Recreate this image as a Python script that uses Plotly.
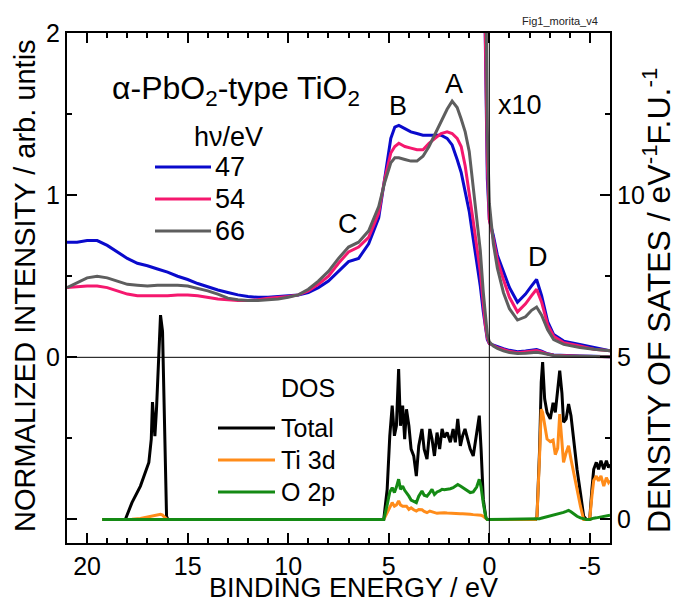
import plotly.graph_objects as go

# ---------------- photoemission spectra (raw, normalized) ----------------
spec_E = [21, 20.5, 20, 19.5, 19, 18.5, 18, 17.5, 17, 16.5, 16, 15.5, 15, 14.5, 14, 13.5,
          13, 12.5, 12, 11.5, 11, 10.5, 10, 9.5, 9, 8.5, 8, 7.5, 7, 6.5, 6, 5.5, 5.2, 4.9,
          4.7, 4.5, 4.2, 3.9, 3.6, 3.3, 3.0, 2.7, 2.4, 2.1, 1.85, 1.6, 1.4, 1.2, 1.0, 0.8,
          0.6, 0.45, 0.3, 0.2, 0.1, 0.0, -0.2, -0.4, -0.7, -1.0, -1.4, -1.8, -2.1, -2.35,
          -2.6, -2.9, -3.2, -3.7, -4.5, -5.2, -6]
spec_47 = [0.71, 0.71, 0.72, 0.72, 0.69, 0.65, 0.61, 0.58, 0.565, 0.545, 0.525, 0.50, 0.48,
           0.455, 0.435, 0.415, 0.40, 0.385, 0.375, 0.37, 0.37, 0.375, 0.38, 0.385, 0.40,
           0.43, 0.47, 0.53, 0.59, 0.61, 0.70, 0.86, 1.10, 1.35, 1.42, 1.43, 1.41, 1.39,
           1.38, 1.37, 1.37, 1.37, 1.37, 1.35, 1.31, 1.22, 1.14, 1.02, 0.90, 0.73, 0.57,
           0.44, 0.28, 0.18, 0.11, 0.085, 0.075, 0.063, 0.053, 0.043, 0.034, 0.039, 0.044,
           0.048, 0.038, 0.022, 0.014, 0.010, 0.008, 0.006, 0.004]
spec_54 = [0.43, 0.435, 0.44, 0.44, 0.43, 0.41, 0.39, 0.38, 0.38, 0.38, 0.38, 0.385, 0.385,
           0.38, 0.37, 0.36, 0.355, 0.35, 0.35, 0.355, 0.365, 0.37, 0.375, 0.385, 0.41,
           0.45, 0.50, 0.58, 0.65, 0.68, 0.74, 0.89, 1.10, 1.26, 1.30, 1.32, 1.30, 1.29,
           1.28, 1.28, 1.32, 1.35, 1.38, 1.39, 1.38, 1.35, 1.30, 1.18, 1.02, 0.84, 0.66,
           0.53, 0.33, 0.20, 0.12, 0.085, 0.073, 0.060, 0.048, 0.037, 0.028, 0.033, 0.038,
           0.042, 0.034, 0.020, 0.013, 0.009, 0.007, 0.005, 0.004]
spec_66 = [0.43, 0.46, 0.49, 0.50, 0.49, 0.47, 0.45, 0.445, 0.44, 0.445, 0.445, 0.445, 0.44,
           0.425, 0.41, 0.39, 0.365, 0.355, 0.35, 0.35, 0.355, 0.36, 0.37, 0.385, 0.42,
           0.47, 0.53, 0.61, 0.68, 0.71, 0.78, 0.93, 1.08, 1.20, 1.23, 1.23, 1.22, 1.21,
           1.21, 1.24, 1.30, 1.38, 1.46, 1.53, 1.58, 1.54, 1.47, 1.39, 1.27, 1.06, 0.82,
           0.66, 0.40, 0.25, 0.14, 0.095, 0.070, 0.055, 0.040, 0.030, 0.023, 0.025, 0.029,
           0.031, 0.026, 0.017, 0.011, 0.008, 0.006, 0.005, 0.004]
spec_labels = ["47", "54", "66"]
spec_colors = ["#0A0ACC", "#F5186E", "#5E5E5E"]
x10_factor = 10
x10_start = 0.3   # magnified part shown below this binding energy

# ---------------- calculated density of states ----------------
dos_E = [19.25, 18.1, 17.77, 17.35, 16.93, 16.81, 16.75, 16.63, 16.55, 16.48, 16.35, 16.25,
         16.2, 16.05, 15.98,
         5.25, 5.08, 4.95, 4.83, 4.72, 4.62, 4.51, 4.42, 4.31, 4.21, 4.12, 4.0, 3.89, 3.76,
         3.63, 3.51, 3.35, 3.24, 3.1, 2.96, 2.85, 2.73, 2.6, 2.47, 2.35, 2.24, 2.1, 1.94,
         1.8, 1.69, 1.57, 1.44, 1.33, 1.21, 1.06, 0.95, 0.8, 0.63, 0.5, 0.41, 0.3, 0.17, 0.1,
         -2.3, -2.37, -2.5, -2.58, -2.65, -2.75, -2.87, -3.03, -3.17, -3.28, -3.4, -3.5,
         -3.61, -3.69, -3.82, -3.94, -4.06, -4.19, -4.36, -4.53, -4.69, -4.82, -4.99, -5.1,
         -5.19, -5.32, -5.43, -5.55, -5.69, -5.82, -5.93, -6.0]
dos_total = [0, 0, 0.52, 1.03, 1.76, 2.48, 3.62, 2.57, 3.4, 4.33, 6.3, 5.8, 4.2, 0.1, 0,
             0, 0.93, 2.58, 3.51, 2.58, 2.89, 4.64, 2.89, 3.51, 2.48, 3.4, 2.89, 2.17, 1.96,
             1.34, 2.27, 2.79, 2.17, 1.86, 2.79, 2.48, 1.96, 2.68, 2.17, 2.79, 2.53, 2.68,
             2.38, 2.79, 2.38, 3.1, 2.27, 2.58, 2.79, 2.38, 2.17, 1.96, 2.68, 3.2, 2.17, 0.62,
             0.05, 0,
             0, 0.1, 2.17, 4.23, 4.85, 3.72, 3.3, 3.1, 3.6, 3.3, 4.0, 4.59, 3.9, 3.0, 3.1,
             3.56, 3.2, 2.48, 1.55, 0.82, 0.1, 0, 0, 0.93, 1.55, 1.76, 1.55, 1.81, 1.55, 1.81,
             1.6, 1.7]
dos_ti3d = [0, 0, 0.01, 0.03, 0.08, 0.10, 0.12, 0.12, 0.13, 0.14, 0.16, 0.14, 0.10, 0.02, 0,
            0, 0.2, 0.33, 0.52, 0.41, 0.45, 0.57, 0.45, 0.41, 0.40, 0.41, 0.31, 0.36, 0.30,
            0.26, 0.31, 0.30, 0.25, 0.21, 0.26, 0.24, 0.22, 0.19, 0.20, 0.21, 0.21, 0.20,
            0.19, 0.19, 0.19, 0.18, 0.18, 0.18, 0.18, 0.17, 0.16, 0.15, 0.14, 0.14, 0.13,
            0.10, 0.02, 0,
            0, 0.1, 2.0, 3.4, 3.3, 2.9, 2.48, 2.4, 2.45, 2.0, 2.2, 3.25, 2.48, 1.76, 2.06,
            2.27, 1.86, 1.45, 0.93, 0.41, 0, 0, 0, 0.72, 1.2, 1.34, 1.19, 1.34, 1.03, 1.29,
            1.14, 1.2]
dos_o2p = [0, 0, 0, 0, 0, 0, 0, 0, 0, 0, 0, 0, 0, 0, 0,
           0, 0.45, 0.85, 0.98, 0.83, 1.0, 1.24, 0.93, 1.03, 0.9, 0.83, 0.72, 0.6, 0.55,
           0.52, 0.72, 0.88, 0.75, 0.72, 0.83, 0.93, 0.77, 0.85, 0.88, 0.93, 0.92, 0.93,
           0.95, 0.98, 1.03, 1.08, 1.03, 0.98, 0.93, 0.88, 0.83, 0.85, 1.0, 1.24, 1.0, 0.5,
           0.05, 0,
           0, 0, 0.02, 0.04, 0.05, 0.07, 0.1, 0.12, 0.14, 0.16, 0.17, 0.18, 0.2, 0.22, 0.25,
           0.28, 0.24, 0.17, 0.1, 0.05, 0.01, 0, 0, 0.03, 0.04, 0.05, 0.06, 0.07, 0.08, 0.1,
           0.12, 0.13]
dos_labels = ["Total", "Ti 3d", "O 2p"]
dos_colors = ["#000000", "#FF8C1A", "#148A14"]

assert len(dos_E) == len(dos_total) == len(dos_ti3d) == len(dos_o2p)
assert len(spec_E) == len(spec_47) == len(spec_54) == len(spec_66)

# axis settings
x_range = [21, -6]
x_ticks = [20, 15, 10, 5, 0, -5]
y_range = [-1.145, 2.0]
y_ticks = [-1, 0, 1, 2]
y_ticktext = ["", "0", "1", "2"]
y2_range = [-0.725, 15.0]
y2_ticks = [0, 5, 10]

FONT = "Liberation Sans, Arial, sans-serif"
LW = 3

fig = go.Figure()

# DOS traces on the right axis
for vals, col in zip([dos_total, dos_ti3d, dos_o2p], dos_colors):
    fig.add_trace(go.Scatter(x=dos_E, y=vals, mode="lines", yaxis="y2",
                             line=dict(color=col, width=LW), showlegend=False,
                             hoverinfo="skip"))

# Spectra (raw and x10) on the left axis
for vals, col in zip([spec_47, spec_54, spec_66], spec_colors):
    fig.add_trace(go.Scatter(x=spec_E, y=vals, mode="lines",
                             line=dict(color=col, width=LW), showlegend=False))
for vals, col in zip([spec_47, spec_54, spec_66], spec_colors):
    xs = [e for e in spec_E if e <= x10_start]
    ys = [v * x10_factor for e, v in zip(spec_E, vals) if e <= x10_start]
    fig.add_trace(go.Scatter(x=xs, y=ys, mode="lines",
                             line=dict(color=col, width=LW), showlegend=False))

# plot-area geometry (pixels)
L, R, T, B = 67, 610, 33, 543
W, H = R - L, B - T
def px(x):
    return (x - L) / W
def py(y):
    return (B - y) / H

shapes = [
    dict(type="line", xref="paper", yref="y", x0=0, x1=1, y0=0, y1=0,
         line=dict(color="black", width=1)),
    dict(type="line", xref="x", yref="paper", x0=0, x1=0, y0=0, y1=1,
         line=dict(color="black", width=1)),
]
annotations = []
big = dict(size=27, family=FONT, color="black")

# spectra legend
annotations.append(dict(text="h\u03bd/eV", x=px(192), y=py(137), xanchor="left",
                        yanchor="middle", font=dict(size=27, family=FONT, color="black")))
for i, (lab, col) in enumerate(zip(spec_labels, spec_colors)):
    yy = py(167 + 32 * i)
    shapes.append(dict(type="line", xref="paper", yref="paper", x0=px(155), x1=px(211),
                       y0=yy, y1=yy, line=dict(color=col, width=3)))
    annotations.append(dict(text=lab, x=px(213), y=yy, xanchor="left", yanchor="middle"))

# DOS legend
annotations.append(dict(text="DOS", x=px(279), y=py(388), xanchor="left", yanchor="middle",
                        font=dict(size=25, family=FONT, color="black")))
for i, (lab, col) in enumerate(zip(dos_labels, dos_colors)):
    yy = py(428 + 32 * i)
    shapes.append(dict(type="line", xref="paper", yref="paper", x0=px(218), x1=px(275),
                       y0=yy, y1=yy, line=dict(color=col, width=3)))
    annotations.append(dict(text=lab, x=px(279), y=yy, xanchor="left", yanchor="middle",
                            font=dict(size=25, family=FONT, color="black")))

# labels
annotations += [
    dict(text="\u03b1-PbO<sub>2</sub>-type TiO<sub>2</sub>", x=px(110), y=py(90),
         xanchor="left", yanchor="middle", font=dict(size=32, family=FONT, color="black")),
    dict(text="A", x=px(454), y=py(84), xanchor="center", yanchor="middle"),
    dict(text="B", x=px(398), y=py(106), xanchor="center", yanchor="middle"),
    dict(text="C", x=px(348), y=py(224), xanchor="center", yanchor="middle"),
    dict(text="D", x=px(538), y=py(257), xanchor="center", yanchor="middle"),
    dict(text="x10", x=px(520), y=py(105), xanchor="center", yanchor="middle"),
    dict(text="Fig1_morita_v4", x=px(560), y=py(21), xanchor="center", yanchor="middle",
         font=dict(size=11, family=FONT, color="#222")),
    dict(text="NORMALIZED INTENSITY / arb. untis", x=px(25), y=py(286), textangle=-90,
         xanchor="center", yanchor="middle", font=dict(size=29, family=FONT, color="black")),
    dict(text="DENSITY OF SATES / eV<sup>-1</sup>F.U.<sup>-1</sup>", x=px(657), y=py(300),
         textangle=-90, xanchor="center", yanchor="middle",
         font=dict(size=32, family=FONT, color="black")),
    dict(text="BINDING ENERGY / eV", x=px(353), y=py(605), xanchor="center",
         yanchor="bottom", font=dict(size=27, family=FONT, color="black")),
]
for a in annotations:
    a.setdefault("xref", "paper")
    a.setdefault("yref", "paper")
    a.setdefault("showarrow", False)
    a.setdefault("font", big)

axis_common = dict(showline=True, linecolor="black", linewidth=2, ticks="inside",
                   ticklen=10, tickwidth=2, tickcolor="black", showgrid=False,
                   zeroline=False, tickfont=dict(size=25, family=FONT, color="black"))

fig.update_layout(
    width=678, height=605,
    margin=dict(l=L, r=678 - R, t=T, b=605 - B),
    paper_bgcolor="white", plot_bgcolor="white",
    showlegend=False,
    shapes=shapes, annotations=annotations,
    xaxis=dict(range=x_range, tickmode="array", tickvals=x_ticks,
               ticktext=[str(t) for t in x_ticks], mirror="ticks",
               minor=dict(dtick=1, tick0=0, ticklen=5, tickwidth=2, ticks="inside",
                          tickcolor="black"),
               **axis_common),
    yaxis=dict(range=y_range, tickmode="array", tickvals=y_ticks, ticktext=y_ticktext,
               minor=dict(tickmode="array", tickvals=[-0.5, 0.5, 1.5], ticklen=5,
                          tickwidth=2, ticks="inside", tickcolor="black"),
               **axis_common),
    yaxis2=dict(range=y2_range, overlaying="y", side="right", tickmode="array",
                tickvals=y2_ticks, ticktext=[str(t) for t in y2_ticks],
                minor=dict(tickmode="array", tickvals=[2.5, 7.5, 12.5], ticklen=5,
                           tickwidth=2, ticks="inside", tickcolor="black"),
                **axis_common),
)

fig.write_html("out.html", config={"displayModeBar": False},
               post_script="document.body.style.margin='0px';document.body.style.overflow='hidden';")
